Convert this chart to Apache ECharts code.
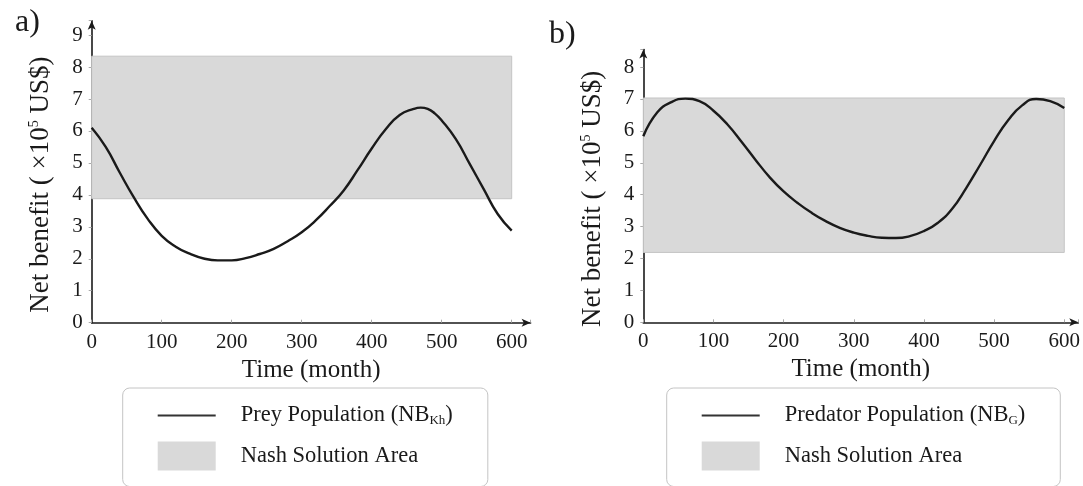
<!DOCTYPE html>
<html>
<head>
<meta charset="utf-8">
<script src="https://cdn.jsdelivr.net/npm/echarts@6/dist/echarts.min.js"></script>
<style>
html,body{margin:0;padding:0;background:#fff;}
#chart{width:1083px;height:486px;}
</style>
</head>
<body>
<div id="chart"></div>
<script>
// ---- data ----
const timeA = [0,20,40,60,80,100,120,140,160,180,200,220,240,260,280,300,320,340,360,380,400,420,440,460,470,480,490,500,520,540,560,580,600];
const preyValues = [6.1,5.5,4.7,3.93,3.25,2.72,2.38,2.16,2.01,1.95,1.95,2.02,2.15,2.31,2.55,2.83,3.2,3.65,4.14,4.78,5.45,6.05,6.5,6.69,6.73,6.69,6.55,6.33,5.75,4.97,4.18,3.4,2.88];
const timeB = [0,20,40,60,80,100,120,140,160,180,200,220,240,260,280,300,320,340,360,380,400,420,440,460,480,500,520,540,560,580,600];
const predatorValues = [5.83,6.58,6.9,7.01,6.93,6.63,6.2,5.66,5.09,4.55,4.1,3.74,3.43,3.17,2.96,2.81,2.71,2.65,2.64,2.7,2.86,3.12,3.55,4.2,4.93,5.68,6.33,6.8,7.0,6.93,6.72];
const nashA = [3.88, 8.34];
const nashB = [2.19, 7.03];
const nashX = [0, 600];
const xTicks = [0,100,200,300,400,500,600];
const yTicksA = [0,1,2,3,4,5,6,7,8,9];
const yTicksB = [0,1,2,3,4,5,6,7,8];
const panelLabels = ['a)', 'b)'];
const preyName = 'Prey Population (NB_Kh)';
const predName = 'Predator Population (NB_G)';
const nashName = 'Nash Solution Area';

// ---- styles ----
const FONT = 'Liberation Serif';
const ink = '#1a1a1a';
const band = '#d9d9d9';

function pairs(xs, ys){ return xs.map((x,i)=>[x, ys[i]]); }

function xAxisCfg(gi, max){
  return {
    type:'value', gridIndex:gi, min:0, max:max, interval:100,
    name:'Time (month)', nameLocation:'middle', nameGap:35,
    nameTextStyle:{fontFamily:FONT, fontSize:25, color:ink},
    axisLine:{show:true, lineStyle:{color:ink, width:1.6}, symbol:['none','arrow'], symbolSize:[6,9]},
    axisTick:{show:true, inside:true, length:3, lineStyle:{color:'#aaa'}},
    axisLabel:{fontFamily:FONT, fontSize:21, color:ink, margin:9,
      formatter:v=> xTicks.includes(v) ? String(v) : ''},
    splitLine:{show:false}
  };
}
function yAxisCfg(gi, max, ticks){
  return {
    type:'value', gridIndex:gi, min:0, max:max, interval:1,
    name:'{a|Net benefit ( ×10}{s|5}{a| US$)}', nameLocation:'middle', nameGap:37,
    nameTextStyle:{fontFamily:FONT, fontSize:27, color:ink, padding:[0,26,0,0],
      rich:{a:{fontFamily:FONT, fontSize:27, color:ink}, s:{fontFamily:FONT, fontSize:14, color:ink, verticalAlign:'top', padding:[0,0,9,0]}}},
    axisLine:{show:true, lineStyle:{color:ink, width:1.6}, symbol:['none','arrow'], symbolSize:[6,9]},
    axisTick:{show:true, length:3, lineStyle:{color:'#aaa'}},
    axisLabel:{fontFamily:FONT, fontSize:21, color:ink, margin:9,
      formatter:v=> ticks.includes(v) ? String(v) : ''},
    splitLine:{show:false}
  };
}
function legendCfg(left, curveName){
  return {
    orient:'vertical', left:left, top:388, height:100,
    padding:[16,35,16,35], itemGap:14, itemWidth:58, itemHeight:29,
    symbolKeepAspect:true,
    backgroundColor:'#fff', borderColor:'#c4c4c4', borderWidth:1, borderRadius:7,
    data:[{name:curveName, icon:'path://M0,0H58V2.2H0Z', itemStyle:{color:'#333'}},
          {name:nashName, icon:'rect', itemStyle:{color:band}}],
    textStyle:{fontFamily:FONT, fontSize:22.5, color:ink, padding:[0,0,0,20],
      rich:{a:{fontFamily:FONT, fontSize:22.5, color:ink}, b:{fontFamily:FONT, fontSize:13, color:ink, verticalAlign:'bottom', padding:[11,0,0,0]}}},
    formatter:function(n){
      if(n.indexOf('_')>=0){
        const m = n.split('_');
        return '{a|'+m[0]+'}{b|'+m[1].replace(')','')+'}{a|)}';
      }
      return '{a|'+n+'}';
    }
  };
}

const chart = echarts.init(document.getElementById('chart'), null, {renderer:'canvas'});
chart.setOption({
  backgroundColor:'#fff',
  animation:false,
  title:[
    {text:panelLabels[0], left:10, top:2, textStyle:{fontFamily:FONT, fontSize:32, fontWeight:'normal', color:ink}},
    {text:panelLabels[1], left:544, top:14, textStyle:{fontFamily:FONT, fontSize:32, fontWeight:'normal', color:ink}}
  ],
  grid:[
    {left:91.7, top:20.7, width:438.9, height:302},
    {left:643.3, top:49.5, width:438.5, height:272.8}
  ],
  xAxis:[xAxisCfg(0, 627), xAxisCfg(1, 620)],
  yAxis:[yAxisCfg(0, 9.45, yTicksA), yAxisCfg(1, 8.55, yTicksB)],
  legend:[
    Object.assign(legendCfg(122.7, preyName), {seriesIndex:[0,1]}),
    Object.assign(legendCfg(666.7, predName), {seriesIndex:[2,3]})
  ],
  series:[
    {name:nashName, type:'line', xAxisIndex:0, yAxisIndex:0, data:[], symbol:'none',
     itemStyle:{color:band}, lineStyle:{color:band},
     markArea:{silent:true, itemStyle:{color:band, borderColor:'#c4c4c4', borderWidth:1},
       data:[[{coord:[nashX[0], nashA[0]]},{coord:[nashX[1], nashA[1]]}]]}},
    {name:preyName, type:'line', xAxisIndex:0, yAxisIndex:0, data:pairs(timeA, preyValues),
     smooth:0.5, symbol:'none', itemStyle:{color:ink}, lineStyle:{color:ink, width:2.4}, z:5},
    {name:nashName, type:'line', xAxisIndex:1, yAxisIndex:1, data:[], symbol:'none',
     itemStyle:{color:band}, lineStyle:{color:band},
     markArea:{silent:true, itemStyle:{color:band, borderColor:'#c4c4c4', borderWidth:1},
       data:[[{coord:[nashX[0], nashB[0]]},{coord:[nashX[1], nashB[1]]}]]}},
    {name:predName, type:'line', xAxisIndex:1, yAxisIndex:1, data:pairs(timeB, predatorValues),
     smooth:0.5, symbol:'none', itemStyle:{color:ink}, lineStyle:{color:ink, width:2.4}, z:5}
  ]
});
</script>
</body>
</html>
